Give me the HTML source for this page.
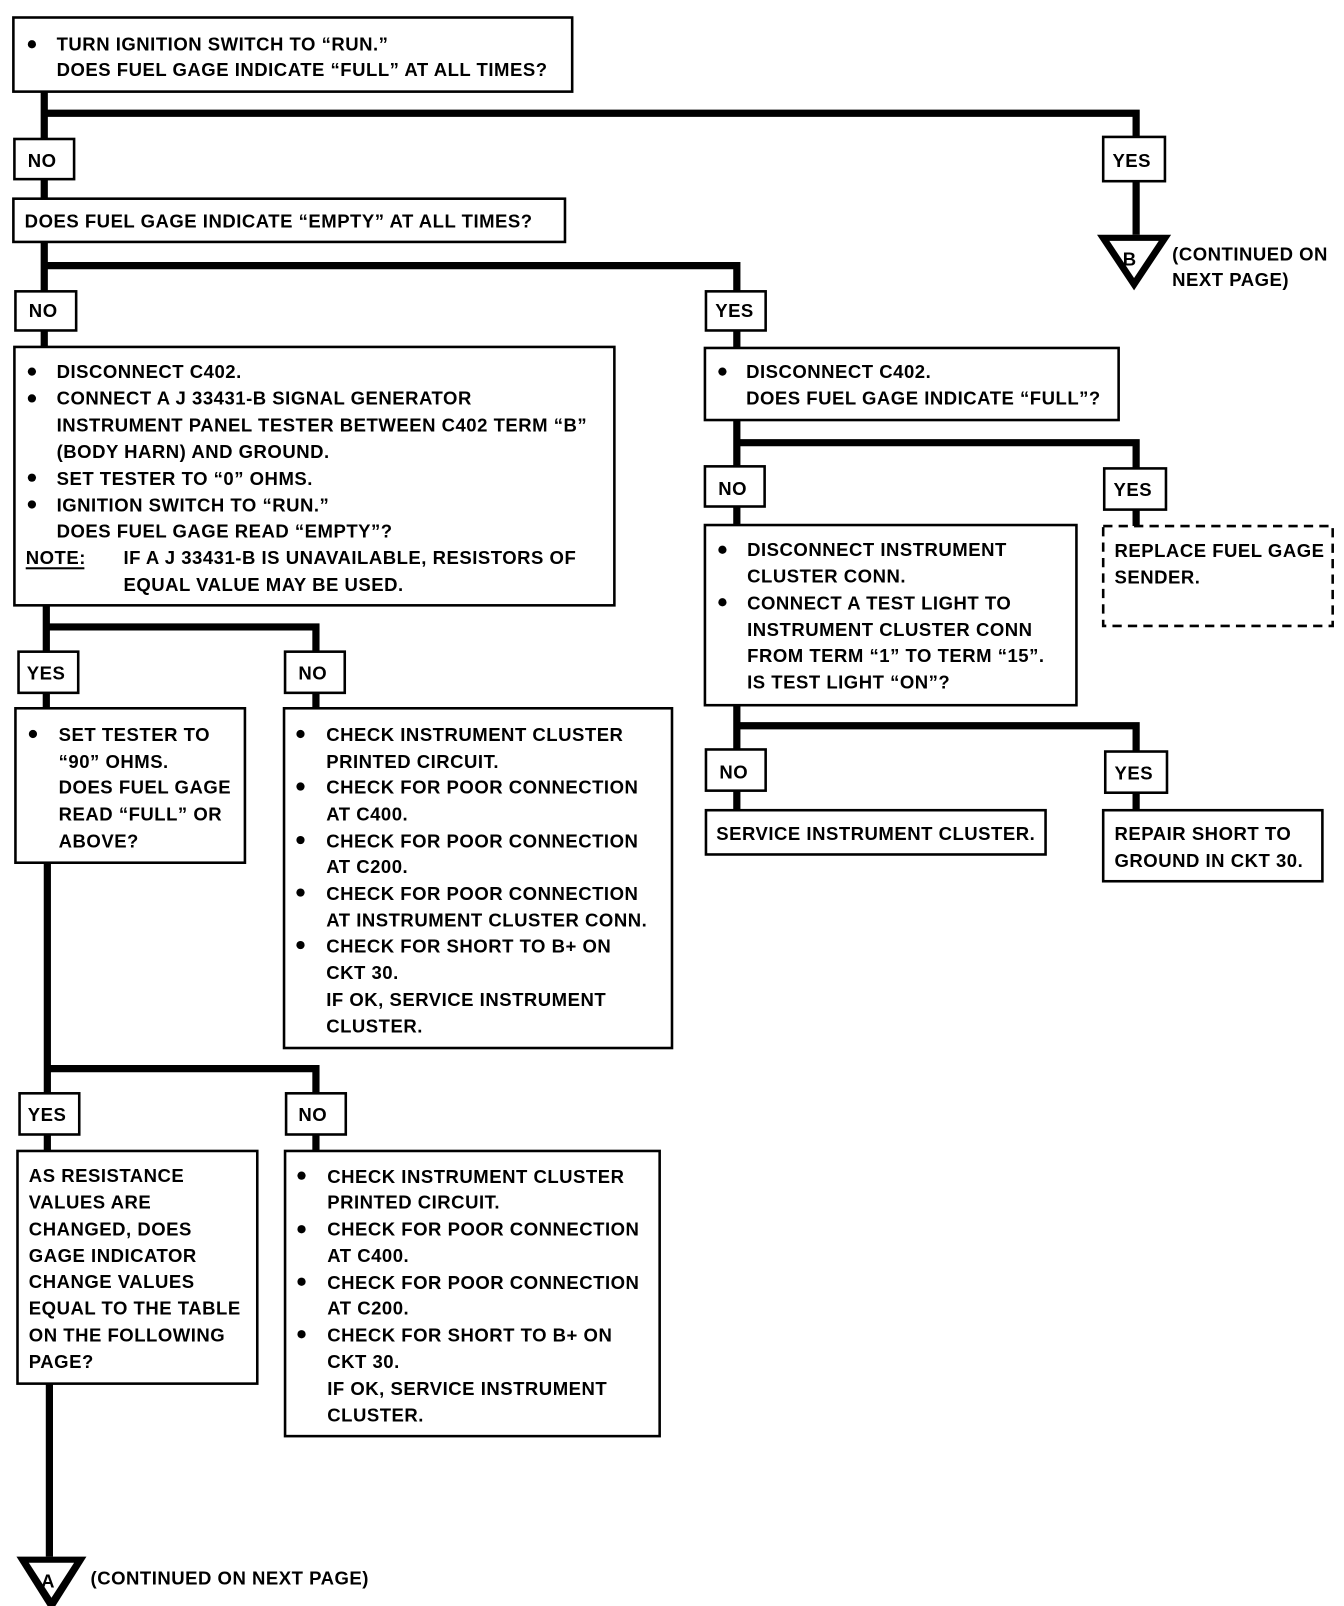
<!DOCTYPE html>
<html><head><meta charset="utf-8"><style>
html,body{margin:0;padding:0;background:#fff;}
svg{display:block;}
text{font-family:"Liberation Sans",sans-serif;font-weight:bold;font-size:18px;letter-spacing:0.5px;fill:#000;}
.b{fill:#fff;stroke:#000;stroke-width:2.5;}
.l{stroke:#000;stroke-width:7;fill:none;}
</style></head><body>
<svg width="1344" height="1606" viewBox="0 0 1306 1560" preserveAspectRatio="none" xmlns="http://www.w3.org/2000/svg">
<path class="l" d="M43 89V193 M43 110H1104V228 M43 235V337 M43 258H716V338 M716 408V510 M716 430H1104V511 M716 685V787 M716 705H1104V787 M45 588V688 M45 609H307V688 M46 838V1118 M46 1038H307V1118 M48 1344V1512"/>
<polygon points="1066,228 1138,228 1102,282" fill="#000"/>
<polygon points="1078,234 1126,234 1102,270" fill="#fff"/>
<text x="1091" y="258" font-size="24" letter-spacing="0">B</text>
<text x="1139" y="253">(CONTINUED ON</text>
<text x="1139" y="278">NEXT PAGE)</text>
<polygon points="16,1512 84,1512 50,1566" fill="#000"/>
<polygon points="28,1518 72,1518 50,1552" fill="#fff"/>
<text x="40" y="1542" font-size="24" letter-spacing="0">A</text>
<text x="88" y="1539">(CONTINUED ON NEXT PAGE)</text>

<rect class="b" x="13" y="17" width="543" height="72"/>
<circle cx="31" cy="43" r="4"/>
<text x="55" y="49">TURN IGNITION SWITCH TO “RUN.”</text>
<text x="55" y="74">DOES FUEL GAGE INDICATE “FULL” AT ALL TIMES?</text>
<rect class="b" x="14" y="135" width="58" height="39"/><text x="27" y="162">NO</text>
<rect class="b" x="1072" y="133" width="60" height="43"/><text x="1081" y="162">YES</text>
<rect class="b" x="13" y="193" width="536" height="42"/>
<text x="24" y="221">DOES FUEL GAGE INDICATE “EMPTY” AT ALL TIMES?</text>
<rect class="b" x="15" y="283" width="59" height="38"/><text x="28" y="308">NO</text>
<rect class="b" x="686" y="283" width="58" height="38"/><text x="695" y="308">YES</text>
<rect class="b" x="14" y="337" width="583" height="251"/>
<circle cx="31" cy="361" r="4"/><circle cx="31" cy="387" r="4"/><circle cx="31" cy="464" r="4"/><circle cx="31" cy="490" r="4"/>
<text x="55" y="367">DISCONNECT C402.</text>
<text x="55" y="393">CONNECT A J 33431-B SIGNAL GENERATOR</text>
<text x="55" y="419">INSTRUMENT PANEL TESTER BETWEEN C402 TERM “B”</text>
<text x="55" y="445">(BODY HARN) AND GROUND.</text>
<text x="55" y="471">SET TESTER TO “0” OHMS.</text>
<text x="55" y="497">IGNITION SWITCH TO “RUN.”</text>
<text x="55" y="522">DOES FUEL GAGE READ “EMPTY”?</text>
<text x="25" y="548">NOTE:</text><rect x="25" y="551" width="57" height="2"/>
<text x="120" y="548">IF A J 33431-B IS UNAVAILABLE, RESISTORS OF</text>
<text x="120" y="574">EQUAL VALUE MAY BE USED.</text>
<rect class="b" x="685" y="338" width="402" height="70"/>
<circle cx="702" cy="361" r="4"/>
<text x="725" y="367">DISCONNECT C402.</text>
<text x="725" y="393">DOES FUEL GAGE INDICATE “FULL”?</text>
<rect class="b" x="685" y="453" width="58" height="39"/><text x="698" y="481">NO</text>
<rect class="b" x="1073" y="455" width="60" height="40"/><text x="1082" y="482">YES</text>
<rect x="1072" y="511" width="223" height="97" fill="#fff" stroke="#000" stroke-width="2.5" stroke-dasharray="9,6"/>
<text x="1083" y="541">REPLACE FUEL GAGE</text>
<text x="1083" y="567">SENDER.</text>
<rect class="b" x="685" y="510" width="361" height="175"/>
<circle cx="702" cy="534" r="4"/><circle cx="702" cy="585" r="4"/>
<text x="726" y="540">DISCONNECT INSTRUMENT</text>
<text x="726" y="566">CLUSTER CONN.</text>
<text x="726" y="592">CONNECT A TEST LIGHT TO</text>
<text x="726" y="618">INSTRUMENT CLUSTER CONN</text>
<text x="726" y="643">FROM TERM “1” TO TERM “15”.</text>
<text x="726" y="669">IS TEST LIGHT “ON”?</text>
<rect class="b" x="686" y="728" width="58" height="40"/><text x="699" y="756">NO</text>
<rect class="b" x="1074" y="730" width="60" height="40"/><text x="1083" y="757">YES</text>
<rect class="b" x="686" y="787" width="330" height="43"/>
<text x="696" y="816">SERVICE INSTRUMENT CLUSTER.</text>
<rect class="b" x="1072" y="787" width="213" height="69"/>
<text x="1083" y="816">REPAIR SHORT TO</text>
<text x="1083" y="842">GROUND IN CKT 30.</text>
<rect class="b" x="18" y="633" width="58" height="40"/><text x="26" y="660">YES</text>
<rect class="b" x="277" y="633" width="58" height="40"/><text x="290" y="660">NO</text>
<rect class="b" x="15" y="688" width="223" height="150"/>
<circle cx="32" cy="713" r="4"/>
<text x="57" y="720">SET TESTER TO</text>
<text x="57" y="746">“90” OHMS.</text>
<text x="57" y="771">DOES FUEL GAGE</text>
<text x="57" y="797">READ “FULL” OR</text>
<text x="57" y="823">ABOVE?</text>
<rect class="b" x="276" y="688" width="377" height="330"/>
<circle cx="292" cy="713" r="4"/><circle cx="292" cy="764" r="4"/><circle cx="292" cy="816" r="4"/><circle cx="292" cy="867" r="4"/><circle cx="292" cy="918" r="4"/>
<text x="317" y="720">CHECK INSTRUMENT CLUSTER</text>
<text x="317" y="746">PRINTED CIRCUIT.</text>
<text x="317" y="771">CHECK FOR POOR CONNECTION</text>
<text x="317" y="797">AT C400.</text>
<text x="317" y="823">CHECK FOR POOR CONNECTION</text>
<text x="317" y="848">AT C200.</text>
<text x="317" y="874">CHECK FOR POOR CONNECTION</text>
<text x="317" y="900">AT INSTRUMENT CLUSTER CONN.</text>
<text x="317" y="925">CHECK FOR SHORT TO B+ ON</text>
<text x="317" y="951">CKT 30.</text>
<text x="317" y="977">IF OK, SERVICE INSTRUMENT</text>
<text x="317" y="1003">CLUSTER.</text>
<rect class="b" x="19" y="1062" width="58" height="40"/><text x="27" y="1089">YES</text>
<rect class="b" x="278" y="1062" width="58" height="40"/><text x="290" y="1089">NO</text>
<rect class="b" x="17" y="1118" width="233" height="226"/>
<text x="28" y="1148">AS RESISTANCE</text>
<text x="28" y="1174">VALUES ARE</text>
<text x="28" y="1200">CHANGED, DOES</text>
<text x="28" y="1226">GAGE INDICATOR</text>
<text x="28" y="1251">CHANGE VALUES</text>
<text x="28" y="1277">EQUAL TO THE TABLE</text>
<text x="28" y="1303">ON THE FOLLOWING</text>
<text x="28" y="1329">PAGE?</text>
<rect class="b" x="277" y="1118" width="364" height="277"/>
<circle cx="293" cy="1142" r="4"/><circle cx="293" cy="1194" r="4"/><circle cx="293" cy="1245" r="4"/><circle cx="293" cy="1296" r="4"/>
<text x="318" y="1149">CHECK INSTRUMENT CLUSTER</text>
<text x="318" y="1174">PRINTED CIRCUIT.</text>
<text x="318" y="1200">CHECK FOR POOR CONNECTION</text>
<text x="318" y="1226">AT C400.</text>
<text x="318" y="1252">CHECK FOR POOR CONNECTION</text>
<text x="318" y="1277">AT C200.</text>
<text x="318" y="1303">CHECK FOR SHORT TO B+ ON</text>
<text x="318" y="1329">CKT 30.</text>
<text x="318" y="1355">IF OK, SERVICE INSTRUMENT</text>
<text x="318" y="1381">CLUSTER.</text>
</svg>
</body></html>
